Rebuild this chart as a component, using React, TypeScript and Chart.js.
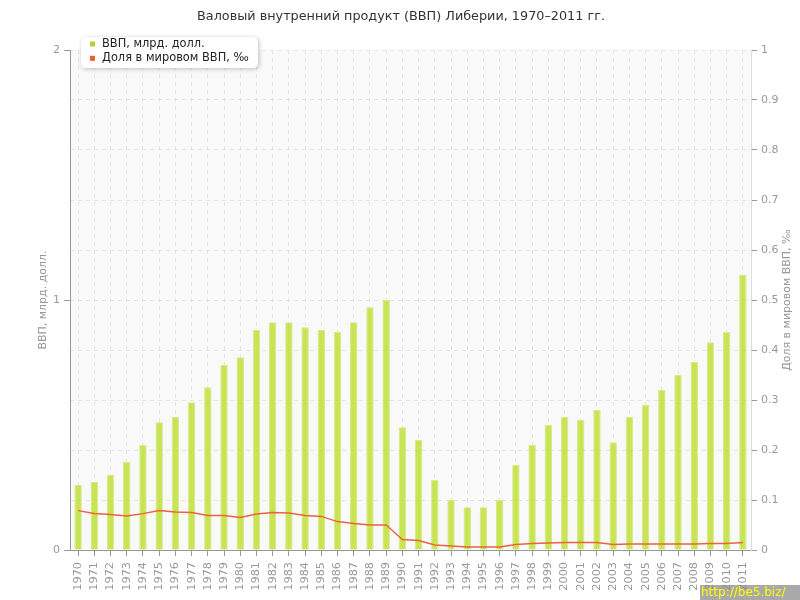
import React, { useEffect, useRef } from "react";
import { Chart, registerables } from "chart.js";

Chart.register(...registerables);

const TITLE = "Валовый внутренний продукт (ВВП) Либерии, 1970–2011 гг.";
const years: string[] = [
  "1970","1971","1972","1973","1974","1975","1976","1977","1978","1979",
  "1980","1981","1982","1983","1984","1985","1986","1987","1988","1989",
  "1990","1991","1992","1993","1994","1995","1996","1997","1998","1999",
  "2000","2001","2002","2003","2004","2005","2006","2007","2008","2009",
  "2010","2011",
];
const gdp: number[] = [
  0.26, 0.272, 0.301, 0.352, 0.42, 0.511, 0.532, 0.591, 0.651, 0.74,
  0.771, 0.881, 0.911, 0.911, 0.891, 0.88, 0.872, 0.911, 0.971, 1.0,
  0.491, 0.44, 0.281, 0.201, 0.171, 0.171, 0.2, 0.341, 0.42, 0.501,
  0.532, 0.52, 0.561, 0.431, 0.532, 0.581, 0.641, 0.701, 0.752, 0.831,
  0.872, 1.101,
];
const share: number[] = [
  0.0787, 0.073, 0.071, 0.068, 0.0727, 0.079, 0.076, 0.075, 0.069, 0.069,
  0.065, 0.072, 0.075, 0.074, 0.069, 0.067, 0.057, 0.053, 0.05, 0.05,
  0.021, 0.019, 0.01, 0.008, 0.006, 0.006, 0.006, 0.011, 0.013, 0.014,
  0.015, 0.015, 0.015, 0.011, 0.012, 0.012, 0.012, 0.012, 0.012, 0.013,
  0.013, 0.015,
];
const gdpLabel = "ВВП, млрд. долл.";
const shareLabel = "Доля в мировом ВВП, ‰";
const leftTitle = "ВВП, млрд. долл.";
const rightTitle = "Доля в мировом ВВП, ‰";
const watermark = "http://be5.biz/";

const FONT = "'DejaVu Sans', Verdana, sans-serif";

const overlayPlugin = {
  id: "overlay",
  beforeDraw(chart: any) {
    const { ctx, chartArea } = chart;
    ctx.save();
    ctx.fillStyle = "#ffffff";
    ctx.fillRect(0, 0, chart.width, chart.height);
    ctx.fillStyle = "#f9f9f9";
    ctx.fillRect(chartArea.left, chartArea.top, chartArea.right - chartArea.left, chartArea.bottom - chartArea.top);
    ctx.restore();
  },
  afterDraw(chart: any) {
    const { ctx, chartArea } = chart;
    const midY = (chartArea.top + chartArea.bottom) / 2;
    ctx.save();
    // title
    ctx.font = "12.8px " + FONT;
    ctx.fillStyle = "#333333";
    ctx.textAlign = "center";
    ctx.textBaseline = "middle";
    ctx.fillText(TITLE, 401, 17);

    // axis titles
    ctx.font = "11px " + FONT;
    ctx.fillStyle = "#999999";
    ctx.save();
    ctx.translate(43, midY);
    ctx.rotate(-Math.PI / 2);
    ctx.fillText(leftTitle, 0, 0);
    ctx.restore();
    ctx.save();
    ctx.translate(787, midY);
    ctx.rotate(-Math.PI / 2);
    ctx.fillText(rightTitle, 0, 0);
    ctx.restore();

    // legend box
    const bx = 81, by = 37, bw = 177, bh = 31, r = 5;
    ctx.save();
    ctx.shadowColor = "rgba(0,0,0,0.25)";
    ctx.shadowBlur = 4;
    ctx.shadowOffsetX = 1;
    ctx.shadowOffsetY = 1;
    ctx.fillStyle = "#ffffff";
    ctx.beginPath();
    ctx.moveTo(bx + r, by);
    ctx.lineTo(bx + bw - r, by);
    ctx.quadraticCurveTo(bx + bw, by, bx + bw, by + r);
    ctx.lineTo(bx + bw, by + bh - r);
    ctx.quadraticCurveTo(bx + bw, by + bh, bx + bw - r, by + bh);
    ctx.lineTo(bx + r, by + bh);
    ctx.quadraticCurveTo(bx, by + bh, bx, by + bh - r);
    ctx.lineTo(bx, by + r);
    ctx.quadraticCurveTo(bx, by, bx + r, by);
    ctx.closePath();
    ctx.fill();
    ctx.restore();

    const items = chart.data.datasets;
    const markerColors = ["#b5d334", "#e8602c"];
    ctx.font = "11.4px " + FONT;
    ctx.textAlign = "left";
    ctx.textBaseline = "middle";
    items.forEach((ds: any, i: number) => {
      const cy = 44 + i * 14.3;
      ctx.fillStyle = markerColors[i];
      ctx.fillRect(90, cy - 2.5, 5, 5);
      ctx.fillStyle = "#222222";
      ctx.fillText(ds.label, 102, cy);
    });

    // watermark
    ctx.fillStyle = "rgba(140,140,140,0.75)";
    ctx.fillRect(700, 585, 100, 15);
    ctx.fillStyle = "#ffff00";
    ctx.font = "12px " + FONT;
    ctx.textAlign = "left";
    ctx.textBaseline = "middle";
    ctx.fillText(watermark, 701, 593);
    ctx.restore();
  },
};

export default function App() {
  const ref = useRef<HTMLCanvasElement>(null);
  useEffect(() => {
    document.body.style.margin = "0";
    Chart.defaults.font.family = FONT;
    Chart.defaults.font.size = 11;
    Chart.defaults.color = "#999999";
    const chart = new Chart(ref.current as HTMLCanvasElement, {
      type: "bar",
      data: {
        labels: years,
        datasets: [
          {
            type: "bar",
            label: gdpLabel,
            data: gdp,
            yAxisID: "y",
            backgroundColor: "rgba(194,224,60,0.88)",
            borderColor: "rgba(214,235,140,1)",
            borderWidth: 1,
            categoryPercentage: 1,
            barPercentage: 0.46,
            order: 2,
          } as any,
          {
            type: "line",
            label: shareLabel,
            data: share,
            yAxisID: "y2",
            borderColor: "#e8643c",
            backgroundColor: "#e8643c",
            borderWidth: 1.3,
            pointRadius: 0,
            tension: 0,
            order: 1,
          } as any,
        ],
      },
      options: {
        animation: false,
        responsive: false,
        layout: { padding: { top: 50, left: 0, right: 0, bottom: 0 } },
        plugins: {
          legend: { display: false },
          title: { display: false },
          tooltip: { enabled: false },
        },
        scales: {
          x: {
            z: 1,
            offset: true,
            grid: {
              offset: false,
              color: "rgba(228,228,228,1)",
              tickColor: "#999999",
              tickLength: 6,
            },
            border: { color: "#999999", dash: [4, 4] },
            ticks: {
              minRotation: 90,
              maxRotation: 90,
              autoSkip: false,
              padding: 6,
              color: "#999999",
              font: { size: 11.3 },
            },
            afterFit(scale: any) {
              scale.height = 50;
            },
          },
          y: {
            position: "left",
            min: 0,
            max: 2,
            ticks: { stepSize: 1, padding: 4, color: "#999999" },
            grid: { drawOnChartArea: false, tickLength: 6, tickColor: "#999999" },
            border: { color: "#999999" },
            afterFit(scale: any) {
              scale.width = 70;
            },
          },
          y2: {
            z: 1,
            position: "right",
            min: 0,
            max: 1,
            ticks: {
              stepSize: 0.1,
              padding: 4,
              color: "#999999",
              callback: (v: any) => String(Number(Number(v).toFixed(1))),
            },
            grid: { color: "rgba(228,228,228,1)", tickLength: 6, tickColor: "#999999" },
            border: { color: "#dddddd", dash: [4, 4] },
            afterFit(scale: any) {
              scale.width = 49;
            },
          },
        },
      } as any,
      plugins: [overlayPlugin],
    });
    return () => chart.destroy();
  }, []);
  return (
    <div style={{ width: 800, height: 600 }}>
      <canvas ref={ref} width={800} height={600} style={{ display: "block" }} />
    </div>
  );
}
